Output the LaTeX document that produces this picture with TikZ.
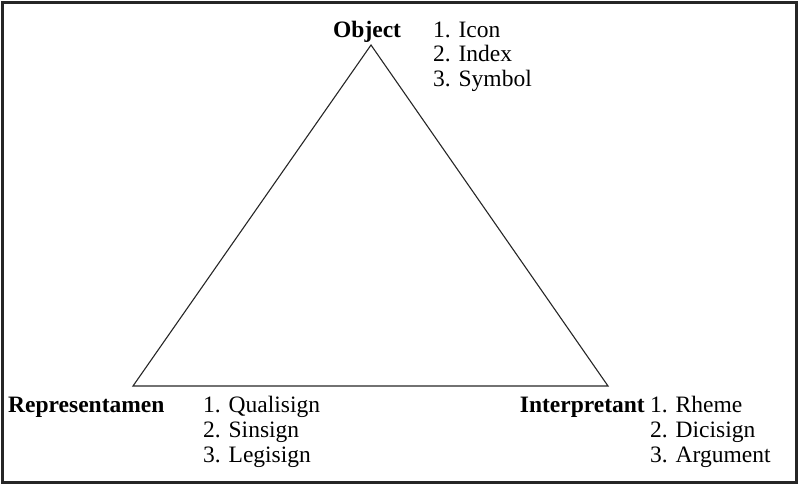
\documentclass[tikz,border=0pt]{standalone}
\usepackage{fontspec}
\setmainfont{Liberation Serif}
\usetikzlibrary{positioning}

\tikzset{
  corner/.style={font=\fontsize{23.5}{26}\selectfont\bfseries, inner sep=0pt, anchor=base west},
  item/.style={font=\fontsize{23.5}{26}\selectfont, inner sep=0pt, anchor=base west}
}

\begin{document}
\begin{tikzpicture}[x=1pt, y=-1pt]
  \useasboundingbox (0,0) rectangle (799,485);
  % frame
  \draw[line width=2.2pt, black!85] (2.5,2.5) rectangle (796.5,482.5);

  % triangle corners
  \coordinate (obj) at (371,45);
  \coordinate (rep) at (133,386);
  \coordinate (int) at (608,386);
  \draw[line width=1.1pt, black!85] (obj) -- (rep) -- (int) -- cycle;

  % Object
  \node[corner] (objlabel) at (333,37) {Object};
  \foreach \t [count=\i] in {Icon, Index, Symbol}
    \node[item] (objitem\i) at (433,{37+24.5*(\i-1)}) {\i. \t};

  % Representamen
  \node[corner] (replabel) at (8,412) {Representamen};
  \foreach \t [count=\i] in {Qualisign, Sinsign, Legisign}
    \node[item] (repitem\i) at (203,{412+25*(\i-1)}) {\i. \t};

  % Interpretant
  \node[corner, anchor=base east] (intlabel) at (645,412) {Interpretant};
  \foreach \t [count=\i] in {Rheme, Dicisign, Argument}
    \node[item] (intitem\i) at (650,{412+25*(\i-1)}) {\i. \t};
\end{tikzpicture}
\end{document}
